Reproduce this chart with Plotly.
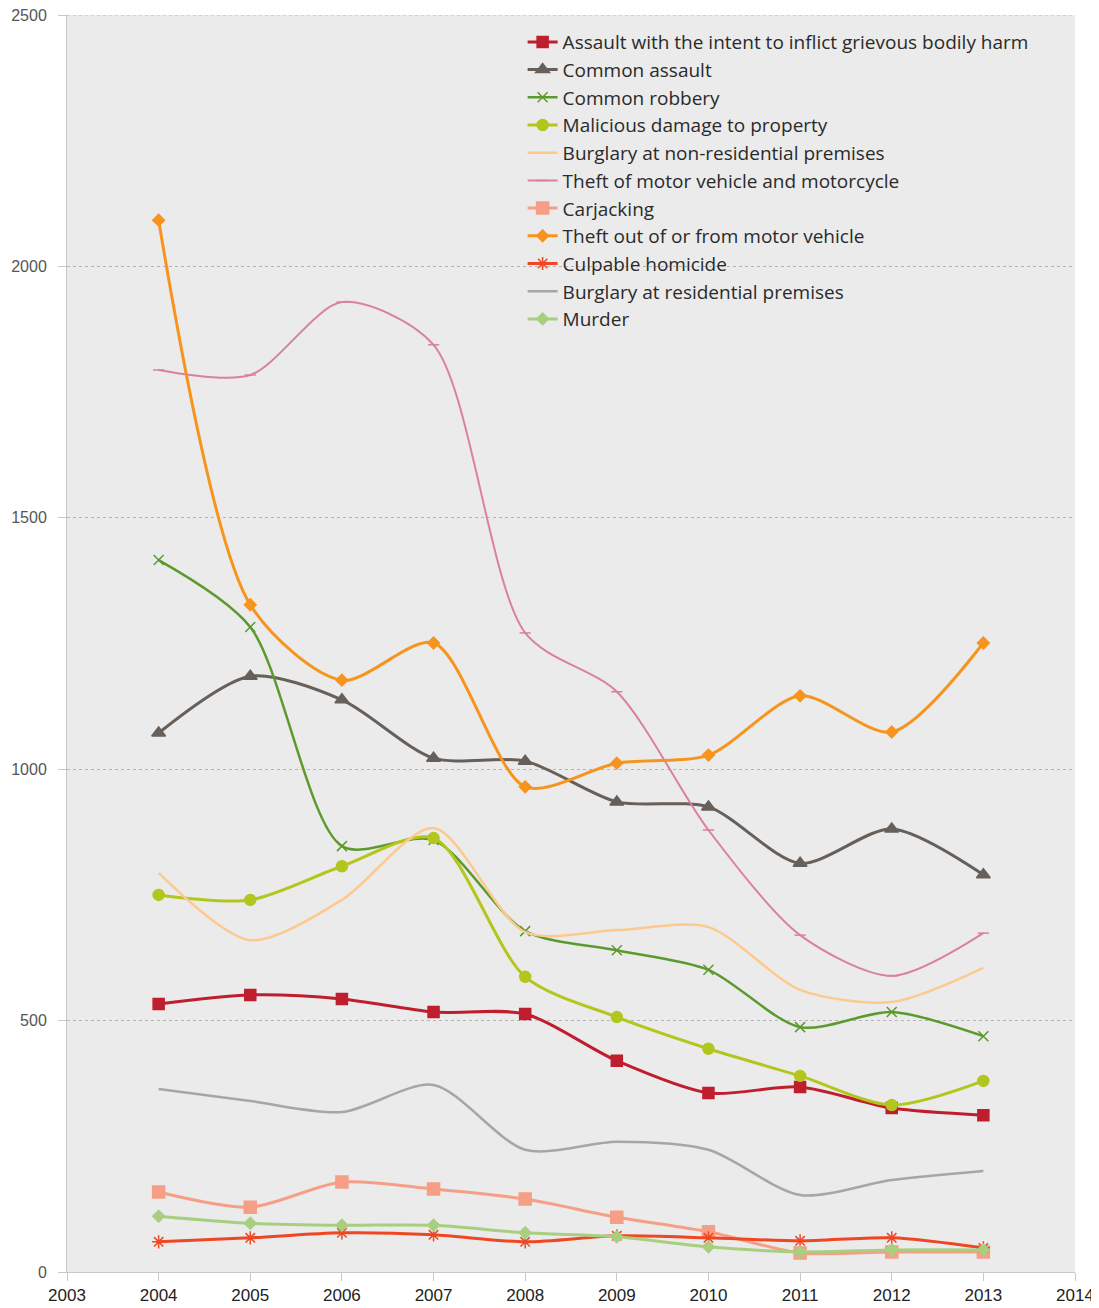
import plotly.graph_objects as go

years = [2004, 2005, 2006, 2007, 2008, 2009, 2010, 2011, 2012, 2013]

assault_gbh = [533, 551, 543, 517, 513, 420, 356, 368, 326, 312]
common_assault = [1072, 1185, 1138, 1022, 1016, 935, 925, 813, 881, 790]
common_robbery = [1416, 1283, 847, 859, 678, 640, 601, 487, 517, 469]
malicious_damage = [750, 740, 807, 863, 587, 507, 444, 390, 332, 380]
burglary_nonres = [794, 660, 740, 883, 676, 680, 686, 561, 537, 605]
theft_mv = [1794, 1784, 1929, 1844, 1271, 1154, 879, 670, 589, 674]
carjacking = [159, 129, 179, 165, 145, 109, 80, 38, 40, 40]
theft_out_mv = [2092, 1327, 1177, 1251, 965, 1012, 1028, 1146, 1074, 1251]
culpable_homicide = [60, 68, 78, 74, 60, 72, 68, 62, 68, 48]
burglary_res = [364, 340, 318, 372, 243, 259, 243, 153, 183, 201]
murder = [111, 97, 93, 93, 78, 70, 50, 40, 44, 44]

y_max = 2500

series = [
    ("Assault with the intent to inflict grievous bodily harm", assault_gbh, "#be1e2d", "square", 11, 3),
    ("Common assault", common_assault, "#675f5a", "triangle-up", 12, 3),
    ("Common robbery", common_robbery, "#5c9a2e", "x-thin-open", 10, 2.5),
    ("Malicious damage to property", malicious_damage, "#b3c61e", "circle", 11, 3),
    ("Burglary at non-residential premises", burglary_nonres, "#fdc98e", None, 0, 2.5),
    ("Theft of motor vehicle and motorcycle", theft_mv, "#d9819e", "line-ew-open", 8, 2),
    ("Carjacking", carjacking, "#f59f86", "square", 12, 3),
    ("Theft out of or from motor vehicle", theft_out_mv, "#f7941d", "diamond", 9, 3),
    ("Culpable homicide", culpable_homicide, "#ef4623", "asterisk-open", 11, 3),
    ("Burglary at residential premises", burglary_res, "#a6a6a6", None, 0, 2.5),
    ("Murder", murder, "#a8cf80", "diamond", 9, 3),
]

fig = go.Figure()
for name, vals, color, sym, size, width in series:
    mode = "lines+markers" if sym else "lines"
    marker = dict(symbol=sym, size=size, color=color, line=dict(color=color, width=1.5)) if sym else None
    fig.add_trace(go.Scatter(
        x=years, y=vals, name=name, mode=mode,
        line=dict(color=color, width=width, shape="spline", smoothing=0.8),
        marker=marker,
    ))

# dotted top gridline at the axis maximum
fig.add_shape(type="line", xref="paper", x0=0, x1=1, yref="y", y0=y_max, y1=y_max,
              line=dict(color="#b5b5b5", width=1, dash="dot"), layer="below")

fig.update_layout(
    width=1091, height=1300,
    margin=dict(l=59, r=24, t=7, b=36),
    paper_bgcolor="white",
    plot_bgcolor="#ebebeb",
    font=dict(family="Liberation Sans Narrow, Liberation Sans, Arial", size=16, color="#333333"),
    showlegend=True,
    legend=dict(
        x=0.452, y=0.9936, xanchor="left", yanchor="top",
        bgcolor="rgba(0,0,0,0)",
        font=dict(family="Open Sans, DejaVu Sans, Arial", size=19, color="#2a2a2a"),
        itemwidth=30,
        tracegroupgap=0,
    ),
    xaxis=dict(
        range=[2003, 2014], dtick=1, tick0=2003,
        showgrid=False, zeroline=False, automargin=False,
        showline=True, linecolor="#c8c8c8", linewidth=1,
        ticks="outside", ticklen=8, tickcolor="#c8c8c8",
        ticklabeloverflow="allow",
        tickfont=dict(size=17, color="#222222"),
    ),
    yaxis=dict(
        range=[0, y_max], dtick=500, automargin=False,
        showgrid=True, gridcolor="#b5b5b5", griddash="dot", gridwidth=1,
        zeroline=False,
        showline=True, linecolor="#c8c8c8", linewidth=1,
        ticks="outside", ticklen=8, tickcolor="#c8c8c8",
        ticklabelstandoff=8,
        ticklabeloverflow="allow",
        tickfont=dict(size=16, color="#555555"),
    ),
)

fig.write_html("out.html")
